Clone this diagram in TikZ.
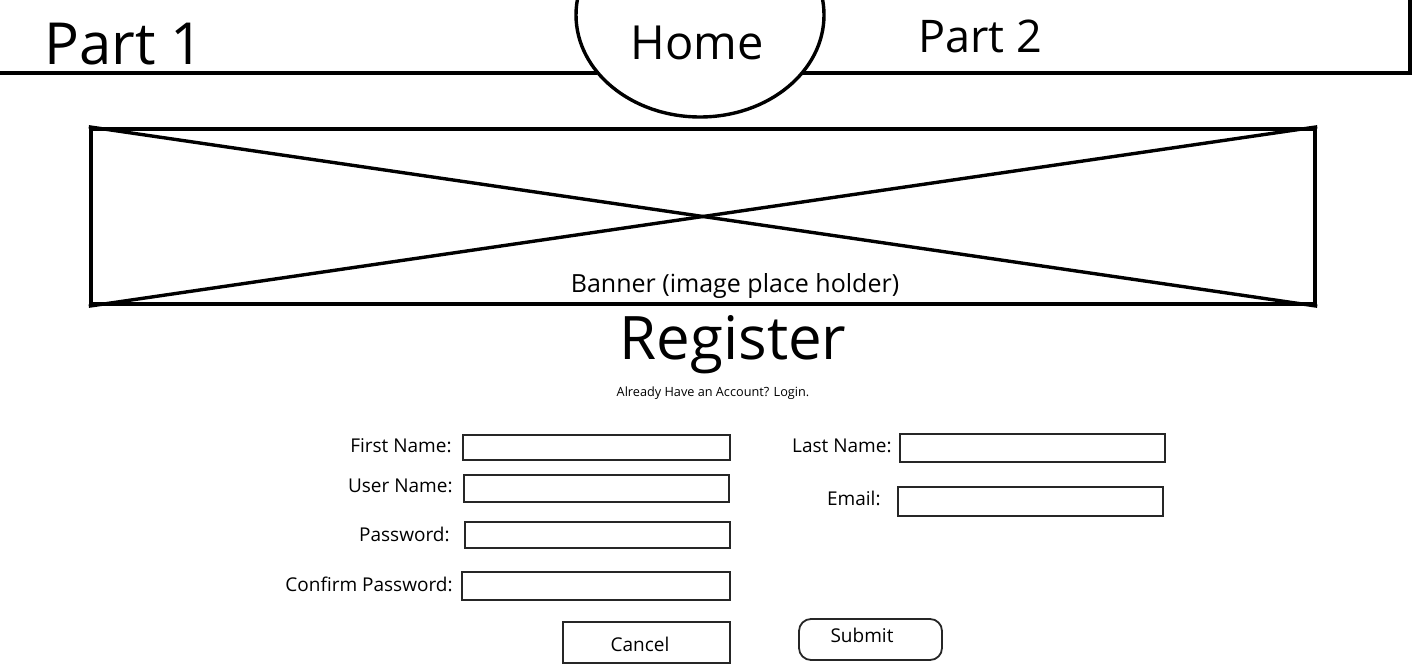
\documentclass[tikz,border=0pt]{standalone}
\usepackage{fontspec}
\setmainfont{Open Sans}
\usetikzlibrary{shapes.geometric,fit}

\tikzset{
  heavy/.style={line width=2pt},
  fieldbox/.style={draw=black!85, line width=0.9pt, inner sep=0pt, outer sep=0pt},
  fieldlabel/.style={font=\fontsize{9.5}{11}\selectfont, anchor=base east, inner sep=0pt},
  btntext/.style={font=\fontsize{9.5}{11}\selectfont, anchor=base, inner sep=0pt},
}

\begin{document}
\begin{tikzpicture}[x=0.5pt, y=-0.5pt]
  \useasboundingbox (0,0) rectangle (1416,672);

  % Draw the navigation bar with the home bubble
  \node[draw, ellipse, line width=1.7pt, minimum width=124pt, minimum height=102pt,
        inner sep=0pt, outer sep=0pt] (home) at (700,15) {};
  \coordinate (navleft) at (0,73);
  \coordinate (navright) at (1410,73);
  \coordinate (navtop) at (1410,-10);
  \draw[heavy] (navleft) -- (home.209.6 |- navleft);
  \draw[heavy] (home.330.4 |- navright) -- (navright) -- (navtop);

  \node[font=\fontsize{29}{34}\selectfont, anchor=base, inner sep=0pt] (part1) at (124,65) {Part 1};
  \node[font=\fontsize{23.5}{28}\selectfont, anchor=base, inner sep=0pt] (hometext) at (697,60) {Home};
  \node[font=\fontsize{22.5}{27}\selectfont, anchor=base, inner sep=0pt] (part2) at (980,53) {Part 2};

  % Draw the banner placeholder
  \node[draw, line width=2.2pt, inner sep=0pt, fit={(91,129) (1315,304)}] (banner) {};
  \draw[line width=1.7pt] (banner.north west) -- (banner.south east);
  \draw[line width=1.7pt] (banner.south west) -- (banner.north east);
  \node[font=\fontsize{12.5}{15}\selectfont, anchor=base, inner sep=0pt] (bannertext) at (735,293) {Banner (image place holder)};

  % Title
  \node[font=\fontsize{30}{36}\selectfont, anchor=base, inner sep=0pt] (register) at (733,360) {Register};
  \node[font=\fontsize{6.35}{8}\selectfont, anchor=base, inner sep=0pt] (login) at (713,397) {Already Have an Account? Login.};

  % Draw the form fields
  \foreach \id/\lab/\lx/\ly/\xa/\ya/\xb/\yb in {
      first/First Name:/452/453/463/435/730/460,
      user/User Name:/453/493/464/475/729/502,
      pass/Password:/450/541/465/522/730/548,
      confirm/Confirm Password:/453/591/462/572/730/600,
      last/Last Name:/892/453/900/434/1165/462,
      email/Email:/881/506/898/487/1163/516} {
    \node[fieldbox, fit={(\xa,\ya) (\xb,\yb)}] (\id) {};
    \node[fieldlabel] (\id lbl) at (\lx,\ly) {\lab};
  }

  % Buttons
  \node[fieldbox, fit={(563,622) (730,663)}] (cancel) {};
  \node[btntext] (canceltext) at (640,651) {Cancel};
  \node[fieldbox, rounded corners=6pt, fit={(799,619) (942,660)}] (submit) {};
  \node[btntext] (submittext) at (862,642) {Submit};
\end{tikzpicture}
\end{document}
